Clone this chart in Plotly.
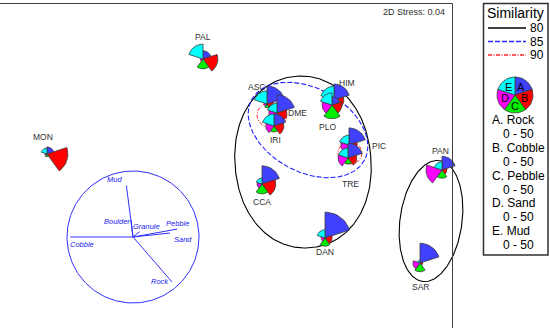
import numpy as np
import plotly.graph_objects as go

# ---------------- data ----------------
sites = ["PAL", "MON", "ASC", "DME", "IRI", "HIM", "PLO", "PIC", "TRE", "CCA", "DAN", "PAN", "SAR"]
mds1 = [203, 47, 267, 277, 274, 334, 332, 349, 348, 262, 325, 442, 420]
mds2 = [59, 154, 104, 113, 126, 100, 105, 145, 158, 184, 238, 170, 263]
rock = [15, 13, 33, 33, 22, 29, 15, 31, 27, 33, 47, 25, 36]
cobble = [27, 38, 11, 18, 18, 18, 18, 15, 16, 25, 13, 9, 5]
pebble = [18, 5, 7, 15, 11, 11, 25, 11, 11, 18, 15, 15, 16]
sand = [5, 4, 5, 15, 15, 11, 18, 15, 18, 9, 7, 29, 13]
mud = [27, 11, 24, 18, 22, 25, 22, 18, 18, 11, 15, 15, 5]

variables = ["Rock", "Cobble", "Pebble", "Sand", "Mud"]
var_letters = ["A", "B", "C", "D", "E"]
var_range = ["0 - 50"] * 5
similarity_levels = [80, 85, 90]
stress = 0.04

vec_names = ["Mud", "Boulder", "Granule", "Pebble", "Sand", "Cobble", "Rock"]
vec_x = [-0.10, -0.03, 0.10, 0.67, 0.56, -0.95, 0.59]
vec_y = [0.78, 0.26, 0.08, 0.12, 0.06, 0.0, -0.68]

# ---------------- styling / layout ----------------
colors = ["#4040ff", "#ff0000", "#00ee00", "#ff00ff", "#00ffff"]
outline = "#3a3a3a"
px_per_unit = 0.55
FONT = "Arial, Liberation Sans, sans-serif"

label_pos = {
    "PAL": (203, 37), "MON": (43, 137), "ASC": (256, 87), "DME": (297, 113),
    "IRI": (275, 140), "HIM": (347, 83), "PLO": (327, 127), "PIC": (379, 146),
    "TRE": (350, 184), "CCA": (262, 202), "DAN": (325, 252), "PAN": (440, 151),
    "SAR": (420, 287),
}

fig = go.Figure()


def wedge(cx, cy, r, k, n=14):
    th = np.radians(np.linspace(k * 72, (k + 1) * 72, n))
    xs = np.concatenate([[cx], cx + r * np.sin(th), [cx]])
    ys = np.concatenate([[cy], cy - r * np.cos(th), [cy]])
    return xs, ys


def ellipse(cx, cy, a, b, ang, expo=2.0, n=240):
    t = np.linspace(0, 2 * np.pi, n)
    p = np.radians(ang)
    c, s = np.cos(t), np.sin(t)
    X = a * np.sign(c) * np.abs(c) ** (2.0 / expo)
    Y = b * np.sign(s) * np.abs(s) ** (2.0 / expo)
    xs = cx + X * np.cos(p) - Y * np.sin(p)
    ys = cy + X * np.sin(p) + Y * np.cos(p)
    return xs, ys


BLUE_DASH = "5px,2px"
RED_DASHDOT = "4px,1.5px,1px,1.5px"

# contours (similarity) drawn first
contours = [
    # (cx, cy, a, b, angle, exponent, color, dash, width)
    (303, 162, 68, 86, -5, 2.1, "black", "solid", 1.1),
    (431, 221, 61, 31, 98, 2.0, "black", "solid", 1.1),
    (308, 130, 64, 42, 28, 2.0, "#2020ff", BLUE_DASH, 1.1),
    (272, 115, 15, 13, 0, 2.0, "#ff2020", RED_DASHDOT, 1.0),
    (333, 103, 9, 9, 0, 2.0, "#ff2020", RED_DASHDOT, 1.0),
    (350, 153, 12, 11, 0, 2.0, "#ff2020", RED_DASHDOT, 1.0),
]
for cx, cy, a, b, ang, ex_, col, dash, w in contours:
    xs, ys = ellipse(cx, cy, a, b, ang, ex_)
    fig.add_trace(go.Scatter(x=xs, y=ys, mode="lines", line=dict(color=col, dash=dash, width=w),
                             hoverinfo="skip", showlegend=False))

# glyphs
vals = [rock, cobble, pebble, sand, mud]
for i, s in enumerate(sites):
    for k in range(5):
        r = vals[k][i] * px_per_unit
        xs, ys = wedge(mds1[i], mds2[i], r, k)
        fig.add_trace(go.Scatter(x=xs, y=ys, mode="lines", fill="toself", fillcolor=colors[k],
                                 line=dict(color=outline, width=0.8), hoverinfo="skip", showlegend=False))

for s in sites:
    lx, ly = label_pos[s]
    fig.add_annotation(x=lx, y=ly, text=s, showarrow=False, font=dict(family=FONT, size=8.5, color="#303030"))

# vector biplot circle
bcx, bcy, bR = 133, 237, 66
xs, ys = ellipse(bcx, bcy, bR, bR, 0)
fig.add_trace(go.Scatter(x=xs, y=ys, mode="lines", line=dict(color="#3030ff", width=1), hoverinfo="skip",
                         showlegend=False))
vec_label_off = {
    "Mud": (-12, -6), "Boulder": (-14, 2), "Granule": (7, -5), "Pebble": (0, -6),
    "Sand": (13, 6), "Cobble": (12, 7), "Rock": (-12, 0),
}
for nm, vx, vy in zip(vec_names, vec_x, vec_y):
    ex, ey = bcx + vx * bR, bcy - vy * bR
    fig.add_trace(go.Scatter(x=[bcx, ex], y=[bcy, ey], mode="lines", line=dict(color="#3030ff", width=1),
                             hoverinfo="skip", showlegend=False))
    ox, oy = vec_label_off[nm]
    fig.add_annotation(x=ex + ox, y=ey + oy, text="<i>" + nm + "</i>", showarrow=False,
                       font=dict(family=FONT, size=7.5, color="#2020ee"))

# stress text
fig.add_annotation(x=447, y=12, text=f"2D Stress: {stress:.2f}", showarrow=False, xanchor="right",
                   font=dict(family=FONT, size=9, color="#303030"))

# panel frames (top and right edges of the main panel visible)
fig.add_shape(type="line", x0=0, y0=3.5, x1=452.5, y1=3.5, line=dict(color="#404040", width=1))
fig.add_shape(type="line", x0=452.5, y0=3.5, x1=452.5, y1=328, line=dict(color="#404040", width=1))
fig.add_shape(type="rect", x0=483.5, y0=3.5, x1=548, y1=255, line=dict(color="#303030", width=1.5))

# legend
fig.add_annotation(x=515, y=13, text="Similarity", showarrow=False, font=dict(family=FONT, size=14, color="black"))
leg_styles = [("black", "solid"), ("#2a2aff", BLUE_DASH), ("#ff2a2a", RED_DASHDOT)]
for j, (lvl, (col, dash)) in enumerate(zip(similarity_levels, leg_styles)):
    yy = 28 + j * 13.5
    fig.add_trace(go.Scatter(x=[488, 526], y=[yy, yy], mode="lines", line=dict(color=col, dash=dash, width=1.4),
                             hoverinfo="skip", showlegend=False))
    fig.add_annotation(x=546, y=yy, text=str(lvl), showarrow=False, xanchor="right",
                       font=dict(family=FONT, size=12, color="black"))

kcx, kcy, kr = 515, 95, 18
for k in range(5):
    xs, ys = wedge(kcx, kcy, kr, k)
    fig.add_trace(go.Scatter(x=xs, y=ys, mode="lines", fill="toself", fillcolor=colors[k],
                             line=dict(color=outline, width=0.8), hoverinfo="skip", showlegend=False))
    ang = np.radians(k * 72 + 36)
    fig.add_annotation(x=kcx + 10.5 * np.sin(ang), y=kcy - 10.5 * np.cos(ang), text=var_letters[k],
                       showarrow=False, font=dict(family=FONT, size=11, color="black"))

for k, (lt, vn, rg) in enumerate(zip(var_letters, variables, var_range)):
    y0 = 120 + k * 27.8
    fig.add_annotation(x=490, y=y0, text=f"{lt}. {vn}", showarrow=False, xanchor="left",
                       font=dict(family=FONT, size=12, color="black"))
    fig.add_annotation(x=501, y=y0 + 14, text=rg, showarrow=False, xanchor="left",
                       font=dict(family=FONT, size=12, color="black"))

fig.update_layout(
    width=550, height=328, margin=dict(l=0, r=0, t=0, b=0),
    paper_bgcolor="white", plot_bgcolor="white", showlegend=False,
    xaxis=dict(range=[0, 550], visible=False, fixedrange=True),
    yaxis=dict(range=[328, 0], visible=False, fixedrange=True),
)
fig.write_html("out.html", config={"displayModeBar": False},
               post_script="document.body.style.margin='0px';document.body.style.overflow='hidden';")
